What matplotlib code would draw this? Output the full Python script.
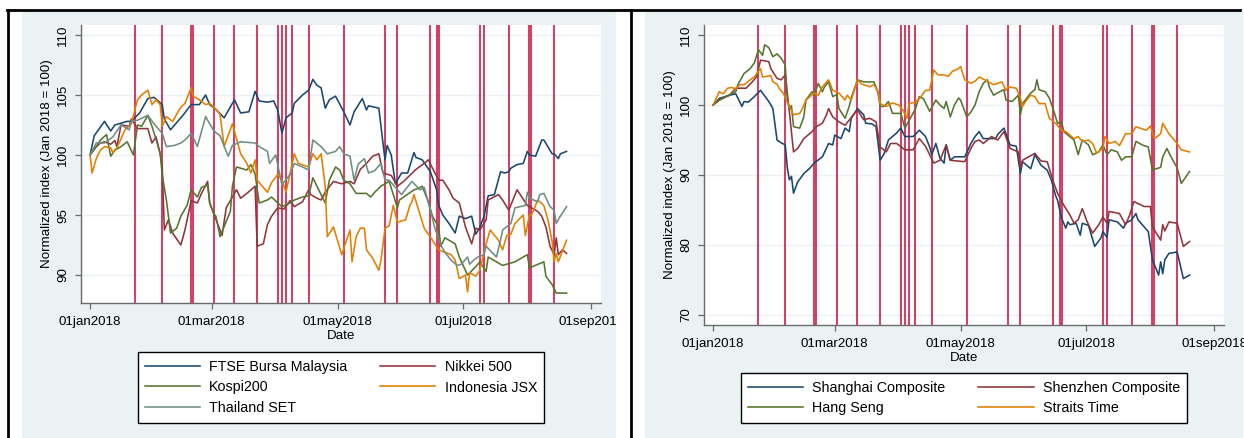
import matplotlib
matplotlib.use("Agg")
import matplotlib.pyplot as plt
from matplotlib.lines import Line2D
from matplotlib.patches import Rectangle
from matplotlib.transforms import Bbox, TransformedBbox
import pandas as pd

plt.rcParams['font.family'] = ['Liberation Sans', 'DejaVu Sans']
plt.rcParams['font.size'] = 9.5

START = pd.Timestamp('2018-01-01')

# dates marked with red vertical lines
event_dates = ['2018-01-23', '2018-02-05', '2018-02-19', '2018-02-20', '2018-03-02',
               '2018-03-12', '2018-03-23', '2018-04-02', '2018-04-04', '2018-04-06',
               '2018-04-09', '2018-04-17', '2018-05-04', '2018-05-24', '2018-05-30',
               '2018-06-15', '2018-06-18', '2018-06-19', '2018-07-09', '2018-07-11',
               '2018-07-23', '2018-08-02', '2018-08-03', '2018-08-14']

x_ticks = ['2018-01-01', '2018-03-01', '2018-05-01', '2018-07-01', '2018-09-01']
x_ticklabels = ['01jan2018', '01mar2018', '01may2018', '01jul2018', '01sep2018']

# ---- left panel (days after 01jan2018, normalized index) ----
ftse_days = [0, 2, 7, 10, 12, 14, 18, 20, 24, 28, 31, 35, 36, 39, 42, 45, 49, 53, 56, 58,
             61, 65, 70, 73, 77, 80, 82, 86, 89, 91, 93, 95, 98, 99, 103, 106, 108, 110, 112, 114,
             116, 119, 123, 126, 128, 132, 134, 135, 140, 142, 143, 144, 146, 148, 151, 154, 157, 158, 161, 165,
             168, 169, 171, 174, 177, 179, 182, 185, 187, 189, 191, 193, 196, 199, 201, 203, 204, 207, 210, 212,
             213, 216, 219, 220, 224, 225, 227, 228, 231]
ftse_vals = [100, 101.6, 102.8, 102.0, 102.5, 102.6, 102.8, 102.8, 103.5, 104.7, 104.8, 104.2, 103.0, 102.1, 102.7, 103.3, 104.2, 104.2, 105.0, 104.2,
             103.8, 103.1, 104.6, 103.5, 103.6, 105.3, 104.5, 104.4, 104.5, 103.75, 101.8, 103.1, 103.5, 104.3, 105.0, 105.4, 106.3, 105.8, 105.6, 103.9,
             104.6, 104.9, 103.6, 102.5, 103.6, 104.7, 103.75, 104.1, 103.9, 101.0, 99.6, 100.8, 100.0, 97.6, 98.5, 98.5, 100.2, 99.8, 99.6, 98.6,
             97.1, 95.8, 95.0, 94.3, 93.5, 94.9, 94.7, 94.9, 93.4, 94.0, 94.9, 96.6, 96.7, 98.6, 98.5, 98.6, 98.9, 99.2, 99.3, 100.3,
             100.0, 99.9, 101.25, 101.25, 100.1, 100.1, 99.7, 100.1, 100.3]

nikkei_days = [0, 3, 5, 7, 10, 12, 13, 15, 19, 20, 23, 28, 30, 32, 34, 35, 36, 38, 40, 44,
               46, 49, 52, 54, 57, 58, 60, 64, 66, 70, 71, 73, 76, 80, 81, 84, 86, 88, 91, 94,
               97, 99, 103, 106, 107, 110, 112, 114, 118, 122, 126, 128, 131, 134, 137, 140, 142, 146, 149, 152,
               155, 158, 162, 164, 166, 169, 171, 174, 176, 179, 182, 185, 187, 189, 192, 193, 198, 200, 203, 207,
               212, 217, 219, 221, 223, 225, 226, 227, 229, 231]
nikkei_vals = [100, 100.7, 101.0, 101.1, 100.9, 101.2, 100.7, 102.5, 102.4, 103.0, 102.2, 102.2, 101.0, 101.5, 100.1, 99.0, 93.75, 94.6, 93.5, 92.5,
               93.75, 96.2, 96.0, 96.8, 97.8, 96.0, 95.1, 93.3, 95.6, 96.8, 97.1, 96.4, 96.8, 97.4, 92.4, 92.6, 94.2, 94.9, 95.6, 95.5,
               96.2, 95.7, 96.1, 97.1, 96.7, 96.4, 96.25, 96.9, 97.8, 97.6, 97.8, 97.6, 98.8, 99.3, 99.9, 100.1, 98.5, 98.3, 97.4, 97.8,
               98.3, 98.8, 99.3, 99.6, 98.9, 97.9, 97.9, 97.1, 96.4, 96.0, 94.0, 92.6, 93.9, 93.75, 94.6, 96.25, 96.7, 96.25, 95.4, 97.1,
               95.8, 95.3, 94.9, 94.0, 92.4, 91.7, 93.1, 91.7, 92.1, 91.8]

kospi_days = [0, 3, 5, 8, 10, 12, 15, 18, 21, 23, 25, 28, 30, 32, 34, 35, 37, 38, 39, 42,
              44, 47, 49, 52, 54, 57, 58, 60, 61, 63, 68, 69, 71, 73, 76, 78, 80, 82, 86, 88,
              91, 93, 97, 99, 103, 106, 108, 110, 114, 116, 119, 121, 123, 126, 129, 134, 136, 138, 141, 143,
              145, 149, 150, 157, 159, 161, 164, 166, 169, 170, 172, 177, 179, 183, 187, 189, 192, 193, 200, 204,
              206, 212, 213, 220, 221, 224, 226, 231]
kospi_vals = [100, 100.7, 101.25, 101.7, 99.9, 100.4, 100.7, 101.1, 100.0, 102.5, 102.4, 103.3, 102.4, 101.3, 100.1, 98.3, 96.25, 94.9, 93.5, 93.9,
              94.9, 95.8, 97.1, 96.5, 97.3, 97.5, 96.0, 95.1, 94.9, 93.2, 95.3, 97.4, 99.0, 98.9, 98.75, 99.2, 98.4, 96.0, 96.25, 96.5,
              96.0, 95.7, 96.0, 96.25, 96.5, 96.6, 98.1, 97.4, 96.0, 97.9, 99.0, 98.75, 97.9, 97.6, 96.8, 96.8, 96.5, 96.9, 97.4, 97.6,
              97.8, 95.6, 96.25, 97.1, 97.2, 97.4, 96.1, 94.9, 94.0, 92.4, 93.1, 92.6, 91.5, 90.0, 90.7, 91.1, 90.3, 91.5, 90.8, 91.0,
              91.1, 91.7, 90.6, 91.1, 89.9, 89.2, 88.5, 88.5]

jsx_days = [0, 1, 3, 5, 7, 10, 11, 13, 17, 20, 23, 25, 28, 30, 32, 34, 35, 37, 40, 44,
            46, 49, 50, 53, 56, 58, 61, 63, 65, 69, 73, 76, 78, 80, 81, 86, 88, 91, 93, 95,
            99, 101, 106, 108, 110, 112, 114, 115, 118, 122, 126, 127, 129, 131, 133, 134, 137, 140, 141, 143,
            145, 147, 149, 153, 155, 156, 157, 162, 166, 169, 172, 175, 177, 179, 182, 183, 184, 187, 189, 191,
            192, 194, 198, 200, 202, 204, 206, 210, 211, 213, 214, 216, 217, 220, 222, 224, 225, 226, 227, 231]
jsx_vals = [100, 98.5, 99.7, 100.4, 100.7, 100.6, 100.2, 100.6, 102.1, 102.6, 104.6, 105.0, 105.4, 104.2, 104.6, 104.2, 102.4, 103.2, 102.8, 104.0,
            104.3, 105.6, 104.9, 104.6, 104.2, 104.3, 103.8, 103.4, 100.7, 102.6, 100.1, 99.3, 98.5, 99.6, 97.9, 96.9, 97.7, 98.4, 97.9, 96.9,
            100.1, 99.3, 99.0, 100.1, 99.6, 100.1, 97.4, 93.2, 94.0, 91.7, 93.75, 91.1, 93.2, 93.9, 93.9, 92.1, 91.4, 90.4, 91.2, 93.9,
            94.1, 95.8, 94.4, 94.6, 95.8, 96.1, 96.7, 93.9, 92.9, 92.1, 91.9, 91.7, 91.25, 89.7, 90.0, 88.6, 90.2, 89.9, 90.4, 91.9,
            92.6, 93.75, 92.9, 92.1, 93.3, 93.4, 94.3, 95.0, 93.3, 95.0, 95.0, 95.8, 96.25, 95.8, 94.6, 92.8, 91.1, 91.8, 91.1, 92.9]

set_days = [0, 3, 7, 11, 15, 19, 20, 23, 28, 31, 35, 37, 41, 44, 46, 49, 52, 56, 60, 63,
            66, 67, 69, 73, 80, 82, 86, 87, 90, 93, 97, 99, 103, 106, 108, 112, 115, 119, 121, 123,
            126, 128, 130, 133, 135, 138, 141, 143, 145, 151, 156, 160, 162, 165, 167, 170, 172, 175, 178, 180,
            183, 184, 186, 188, 191, 192, 197, 199, 200, 204, 206, 211, 212, 213, 217, 218, 220, 223, 225, 226,
            228, 231]
set_vals = [100, 101.0, 101.0, 101.5, 102.5, 102.1, 102.8, 102.9, 103.3, 102.6, 101.8, 100.7, 100.8, 101.0, 101.25, 101.8, 100.7, 103.2, 102.0, 101.6,
            100.3, 99.9, 100.8, 101.1, 101.0, 100.7, 100.3, 99.3, 100.0, 97.5, 98.4, 99.3, 99.0, 98.75, 101.25, 100.7, 100.1, 100.3, 100.7, 100.1,
            99.9, 97.9, 99.25, 99.7, 98.5, 98.7, 99.3, 97.9, 97.9, 96.7, 97.8, 97.1, 97.3, 95.4, 94.0, 92.5, 91.9, 91.25, 90.8, 90.9,
            91.5, 90.9, 91.25, 91.5, 91.7, 92.4, 91.5, 92.9, 93.75, 94.3, 95.6, 95.8, 96.9, 96.4, 96.1, 96.7, 96.8, 95.7, 95.4, 94.3,
            94.9, 95.7]

# ---- right panel ----
shanghai_days = [0, 3, 8, 11, 14, 15, 17, 20, 23, 27, 29, 31, 33, 35, 36, 37, 38, 39, 41, 44,
                 47, 49, 53, 56, 58, 59, 62, 64, 66, 67, 70, 73, 74, 77, 79, 81, 83, 85, 87, 89,
                 91, 93, 97, 100, 103, 105, 106, 108, 110, 112, 113, 115, 117, 122, 125, 127, 129, 131, 135, 137,
                 138, 141, 144, 147, 149, 150, 154, 156, 159, 162, 164, 166, 167, 169, 171, 172, 173, 176, 178, 179,
                 182, 185, 188, 189, 191, 192, 196, 199, 200, 203, 205, 206, 211, 213, 216, 217, 218, 219, 221, 225,
                 228, 231]
shanghai_vals = [100, 100.95, 101.4, 101.6, 99.8, 100.5, 100.4, 101.2, 102.1, 100.5, 99.5, 95.0, 94.6, 94.3, 91.0, 89.3, 89.8, 87.4, 89.0, 90.2,
                 91.0, 91.7, 92.6, 94.5, 94.3, 95.7, 95.2, 96.7, 96.2, 98.1, 99.5, 98.6, 97.4, 97.3, 96.9, 92.1, 93.1, 95.0, 95.5, 96.0,
                 96.7, 95.5, 95.5, 96.4, 95.5, 94.0, 92.9, 94.5, 92.4, 91.7, 94.3, 92.1, 92.6, 92.6, 94.5, 95.5, 96.2, 95.2, 95.2, 95.2,
                 95.8, 96.7, 94.3, 94.1, 90.2, 91.9, 90.9, 92.9, 91.4, 90.7, 89.3, 87.1, 86.4, 83.8, 82.4, 83.3, 82.9, 83.1, 81.4, 83.1,
                 82.8, 79.8, 81.0, 81.9, 81.1, 83.6, 83.3, 82.4, 83.1, 83.6, 84.5, 83.6, 81.9, 77.9, 75.7, 77.6, 75.9, 77.9, 78.8, 79.0,
                 75.2, 75.7]

shenzhen_days = [0, 3, 8, 11, 16, 19, 21, 23, 27, 28, 31, 33, 35, 37, 39, 41, 44, 48, 50, 53,
                 55, 56, 58, 61, 64, 68, 70, 73, 76, 79, 81, 84, 86, 89, 93, 97, 100, 103, 105, 107,
                 110, 113, 115, 122, 125, 127, 129, 131, 135, 138, 141, 144, 148, 149, 150, 156, 159, 162, 165, 167,
                 170, 173, 175, 177, 179, 181, 182, 184, 187, 189, 191, 192, 197, 200, 202, 204, 209, 212, 213, 217,
                 218, 219, 221, 225, 228, 231]
shenzhen_vals = [100, 100.7, 101.4, 102.4, 102.4, 103.3, 104.0, 106.4, 106.2, 105.2, 103.8, 103.6, 104.3, 99.0, 93.3, 93.8, 95.2, 96.2, 96.9, 97.4,
                 98.6, 99.5, 98.3, 97.6, 97.1, 98.6, 99.3, 97.9, 98.1, 97.6, 94.0, 93.3, 94.5, 94.5, 93.6, 93.6, 95.2, 94.1, 92.9, 91.7,
                 92.1, 94.3, 92.1, 91.9, 93.8, 94.8, 95.0, 94.5, 95.5, 95.0, 96.2, 93.8, 93.3, 91.0, 92.1, 93.1, 92.0, 91.9, 89.0, 87.4,
                 85.7, 84.3, 83.1, 83.6, 85.2, 83.6, 82.9, 81.7, 82.9, 84.0, 83.1, 84.8, 84.5, 82.9, 84.3, 86.2, 85.5, 85.5, 82.6, 80.7,
                 82.9, 82.0, 83.3, 83.1, 79.8, 80.5]

hangseng_days = [0, 3, 6, 11, 12, 15, 18, 20, 22, 24, 25, 27, 29, 31, 33, 35, 36, 37, 38, 39,
                 42, 44, 45, 48, 49, 51, 53, 54, 56, 58, 60, 61, 64, 66, 67, 70, 73, 78, 80, 81,
                 83, 85, 87, 91, 93, 96, 98, 100, 102, 105, 108, 110, 112, 113, 115, 117, 119, 120, 123, 125,
                 127, 129, 131, 133, 134, 136, 139, 141, 142, 145, 148, 149, 150, 154, 156, 157, 158, 161, 163, 165,
                 167, 169, 170, 172, 175, 177, 179, 182, 184, 187, 189, 191, 193, 196, 198, 200, 203, 205, 208, 211,
                 213, 217, 218, 220, 222, 225, 227, 231]
hangseng_vals = [100, 100.7, 101.2, 101.9, 102.9, 104.5, 105.2, 106.0, 107.9, 107.1, 108.6, 108.2, 106.9, 107.3, 106.7, 105.7, 100.7, 99.5, 99.9, 96.9,
                 96.7, 98.3, 100.7, 101.9, 101.4, 103.1, 101.9, 102.6, 103.3, 101.2, 101.5, 99.5, 98.1, 99.8, 101.0, 103.6, 103.3, 103.3, 101.7, 99.8,
                 99.8, 100.5, 98.8, 98.8, 96.7, 98.3, 99.4, 101.2, 100.9, 99.1, 100.7, 100.0, 99.5, 100.5, 98.3, 100.0, 101.0, 100.7, 98.3, 99.0,
                 100.0, 101.9, 103.1, 103.6, 102.5, 101.4, 101.9, 102.2, 100.7, 100.5, 101.4, 98.6, 100.2, 101.7, 102.2, 103.6, 102.2, 101.9, 101.0, 99.3,
                 97.4, 97.6, 96.2, 95.7, 95.0, 92.9, 95.0, 94.3, 92.9, 93.3, 94.3, 92.9, 93.6, 93.3, 92.1, 92.6, 92.6, 94.8, 94.3, 94.0,
                 90.7, 91.1, 92.6, 93.8, 92.6, 91.0, 88.8, 90.5]

straits_days = [0, 3, 5, 7, 9, 11, 13, 15, 18, 20, 23, 24, 28, 29, 31, 32, 34, 37, 39, 42,
                43, 45, 49, 51, 53, 56, 58, 61, 64, 65, 67, 70, 72, 76, 78, 80, 81, 84, 87, 90,
                92, 94, 95, 98, 100, 103, 105, 107, 109, 112, 114, 116, 119, 120, 122, 125, 127, 129, 131, 133,
                136, 138, 140, 142, 143, 147, 149, 150, 152, 154, 156, 158, 161, 163, 166, 169, 171, 173, 175, 177,
                179, 182, 184, 186, 188, 189, 190, 192, 195, 197, 200, 203, 205, 207, 210, 212, 214, 217, 218, 221,
                223, 225, 227, 231]
straits_vals = [100, 101.9, 101.6, 102.4, 102.5, 102.3, 102.9, 102.9, 103.6, 104.0, 105.2, 104.0, 104.2, 103.3, 103.0, 102.4, 101.7, 99.8, 98.6, 98.8,
                99.3, 100.7, 101.7, 101.4, 102.6, 103.6, 102.1, 101.7, 100.7, 101.4, 100.7, 103.6, 103.0, 102.6, 102.9, 101.9, 100.2, 99.8, 100.3, 100.0,
                99.3, 98.1, 100.2, 100.4, 100.9, 102.1, 102.1, 105.0, 104.3, 104.3, 104.1, 104.8, 105.2, 105.5, 103.6, 103.1, 103.4, 104.0, 103.7, 103.4,
                102.9, 103.1, 103.3, 102.1, 102.6, 102.4, 101.0, 99.8, 100.7, 101.4, 101.2, 100.2, 100.2, 98.1, 97.4, 96.4, 96.2, 95.7, 95.2, 95.5,
                94.8, 95.0, 94.5, 93.1, 93.6, 93.8, 95.5, 94.5, 94.8, 94.2, 95.9, 95.9, 96.9, 96.7, 96.4, 97.0, 95.2, 95.9, 97.4, 95.9,
                95.2, 94.5, 93.6, 93.3]

NAVY, MAROON, GREEN, ORANGE, TEAL = '#1A476F', '#90353B', '#55752F', '#E37E00', '#6E8E84'
EVENT_RED = '#CF0F3D'
BG = '#EAF2F3'

W, H = 1244, 438
fig = plt.figure(figsize=(W / 100, H / 100), dpi=100)


def fx(px):
    return px / W


def fy(py):
    return 1 - py / H


def to_dates(days):
    return START + pd.to_timedelta(days, unit='D')


# graph region backgrounds and table borders
for x0, x1 in [(22, 616), (645, 1243)]:
    fig.add_artist(Rectangle((fx(x0), 0), fx(x1) - fx(x0), fy(11), transform=fig.transFigure,
                             facecolor=BG, edgecolor='none', zorder=0))
for xs, ys in [([7, 1240], [10, 10]), ([8, 8], [10, 438]), ([631, 631], [10, 438])]:
    fig.add_artist(Line2D([fx(v) for v in xs], [fy(v) for v in ys], transform=fig.transFigure,
                          color='black', lw=2.0, zorder=1))


def draw_panel(rect, series, ylim, yticks, legend_order, legend_center):
    ax = fig.add_axes(rect)
    ax.set_facecolor('white')
    for d in pd.to_datetime(event_dates):
        ax.axvline(d, color=EVENT_RED, lw=1.15, zorder=1)
    handles = []
    for days, vals, color, label in series:
        h, = ax.plot(to_dates(days), vals, color=color, lw=1.15, label=label, zorder=3)
        handles.append(h)
    ax.set_xlim(START + pd.Timedelta(days=-4.4), START + pd.Timedelta(days=247.7))
    ax.set_ylim(*ylim)
    ax.set_xticks(pd.to_datetime(x_ticks))
    ax.set_xticklabels(x_ticklabels)
    ax.set_yticks(yticks)
    ax.set_yticklabels([str(v) for v in yticks], rotation=90, va='center')
    ax.grid(axis='y', color=BG, lw=1.0, zorder=0)
    ax.set_axisbelow(True)
    for s in ['top', 'right']:
        ax.spines[s].set_visible(False)
    for s in ['left', 'bottom']:
        ax.spines[s].set_color('#6A6A6A')
        ax.spines[s].set_linewidth(1.0)
    ax.tick_params(length=4.5, width=0.9, color='#6A6A6A', labelsize=9.6)
    ax.tick_params(axis='x', pad=5)
    ax.tick_params(axis='y', pad=4)
    ax.set_xlabel('Date', labelpad=1.5, fontsize=9.6)
    ax.set_ylabel('Normalized index (Jan 2018 = 100)', labelpad=3, fontsize=9.6)
    leg = ax.legend([handles[i] for i in legend_order], [series[i][3] for i in legend_order],
                    loc='center', bbox_to_anchor=(fx(legend_center[0]), fy(legend_center[1])),
                    bbox_transform=fig.transFigure, ncol=2, fontsize=10.3, frameon=True,
                    fancybox=False, framealpha=1, edgecolor='black', handlelength=3.85,
                    handletextpad=0.65, columnspacing=2.3, labelspacing=0.48, borderpad=0.5)
    leg.get_frame().set_linewidth(1.0)
    for line in leg.get_lines():
        line.set_linewidth(1.15)
    return ax


left_series = [(ftse_days, ftse_vals, NAVY, 'FTSE Bursa Malaysia'),
               (nikkei_days, nikkei_vals, MAROON, 'Nikkei 500'),
               (kospi_days, kospi_vals, GREEN, 'Kospi200'),
               (jsx_days, jsx_vals, ORANGE, 'Indonesia JSX'),
               (set_days, set_vals, TEAL, 'Thailand SET')]
right_series = [(shanghai_days, shanghai_vals, NAVY, 'Shanghai Composite'),
                (shenzhen_days, shenzhen_vals, MAROON, 'Shenzhen Composite'),
                (hangseng_days, hangseng_vals, GREEN, 'Hang Seng'),
                (straits_days, straits_vals, ORANGE, 'Straits Time')]

ax_l = draw_panel([fx(81), fy(303), fx(601) - fx(81), fy(25) - fy(303)], left_series,
                  (87.67, 110.83), [90, 95, 100, 105, 110], [0, 2, 4, 1, 3], (341, 387.5))
ax_r = draw_panel([fx(704), fy(325), fx(1224) - fx(704), fy(25) - fy(325)], right_series,
                  (68.57, 111.43), [70, 80, 90, 100, 110], [0, 2, 1, 3], (964, 398))

# the last date label of the left graph is cut at the edge of its graph region
clip = TransformedBbox(Bbox([[0, 0], [fx(616), 1]]), fig.transFigure)
lab = ax_l.get_xticklabels()[-1]
lab.set_clip_on(True)
lab.set_clip_box(clip)

fig.savefig('out.png', dpi=100)
